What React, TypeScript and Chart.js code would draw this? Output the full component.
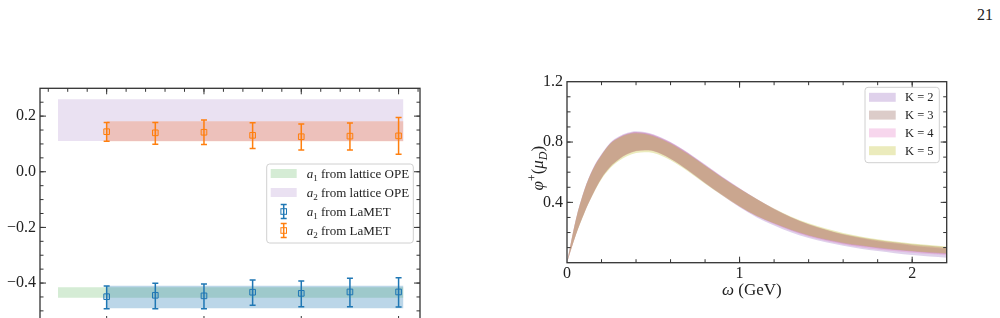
import React, { useEffect, useRef } from "react";
import { Chart, registerables } from "chart.js";

Chart.register(...registerables);

const SERIF = "'Liberation Serif', 'Times New Roman', Times, serif";
const INK = "#222222";
const FRAME = "#333333";

// ---------------- Left panel data ----------------
const LEFT_X_RANGE = [-0.37, 7.44];
const LEFT_Y_RANGE = [-0.54, 0.3];
const LEFT_Y_TICKS = [-0.4, -0.2, 0.0, 0.2];
const LEFT_X_MAJOR = [1, 3, 5, 7];

const LAMET_X = [1, 2, 3, 4, 5, 6, 7];
const A1_LAMET = [-0.449, -0.444, -0.446, -0.433, -0.437, -0.432, -0.432];
const A1_LAMET_HI = [-0.411, -0.401, -0.403, -0.389, -0.393, -0.383, -0.381];
const A1_LAMET_LO = [-0.492, -0.492, -0.492, -0.48, -0.485, -0.485, -0.486];
const A2_LAMET = [0.144, 0.14, 0.142, 0.131, 0.126, 0.128, 0.129];
const A2_LAMET_HI = [0.177, 0.177, 0.186, 0.176, 0.172, 0.175, 0.195];
const A2_LAMET_LO = [0.11, 0.099, 0.098, 0.084, 0.078, 0.078, 0.063];

const OPE_BAND_X = [0, 7.1];
const LAMET_BAND_X = [1, 7.1];
const A1_OPE_BAND = [-0.453, -0.415]; // [low, high]
const A2_OPE_BAND = [0.111, 0.261];
const A1_LAMET_BAND = [-0.491, -0.41];
const A2_LAMET_BAND = [0.11, 0.182];

const LEFT_LEGEND_SYMBOLS = ["1", "2", "1", "2"];
const LEFT_LEGEND_TEXT = [" from lattice OPE", " from lattice OPE", " from LaMET", " from LaMET"];

const C_BLUE = "#1f77b4";
const C_ORANGE = "#ff7f0e";

// ---------------- Right panel data ----------------
const RIGHT_X_TICKS = [0, 1, 2];
const RIGHT_Y_TICKS = [0.4, 0.8, 1.2];
const OMEGA = [0, 0.05, 0.1, 0.15, 0.2, 0.25, 0.3, 0.35, 0.4, 0.45, 0.5, 0.6, 0.7, 0.8, 0.9, 1.0, 1.1, 1.2, 1.3, 1.4, 1.5, 1.6, 1.7, 1.8, 1.9, 2.0, 2.1, 2.2];

const K2_UP = [0, 0.28, 0.482, 0.624, 0.72, 0.795, 0.836, 0.861, 0.871, 0.866, 0.851, 0.801, 0.731, 0.651, 0.57, 0.494, 0.423, 0.357, 0.3, 0.253, 0.216, 0.185, 0.162, 0.143, 0.127, 0.113, 0.101, 0.09];
const K2_LO = [0, 0.18, 0.33, 0.456, 0.562, 0.637, 0.687, 0.722, 0.742, 0.747, 0.742, 0.69, 0.613, 0.527, 0.445, 0.368, 0.3, 0.247, 0.2, 0.163, 0.135, 0.112, 0.093, 0.077, 0.063, 0.051, 0.041, 0.033];
const K3_UP = [0, 0.28, 0.48, 0.62, 0.715, 0.79, 0.83, 0.855, 0.865, 0.86, 0.845, 0.795, 0.725, 0.645, 0.565, 0.49, 0.42, 0.355, 0.3, 0.255, 0.22, 0.19, 0.168, 0.15, 0.135, 0.122, 0.112, 0.103];
const K3_LO = [0, 0.18, 0.33, 0.455, 0.56, 0.635, 0.685, 0.72, 0.74, 0.745, 0.74, 0.69, 0.615, 0.53, 0.45, 0.375, 0.31, 0.26, 0.215, 0.178, 0.15, 0.128, 0.11, 0.096, 0.084, 0.074, 0.065, 0.058];
const K4_UP = [0, 0.279, 0.48, 0.621, 0.716, 0.791, 0.832, 0.857, 0.867, 0.862, 0.848, 0.798, 0.729, 0.649, 0.569, 0.493, 0.422, 0.357, 0.301, 0.255, 0.219, 0.189, 0.166, 0.147, 0.132, 0.118, 0.107, 0.098];
const K4_LO = [0, 0.179, 0.329, 0.454, 0.559, 0.634, 0.684, 0.719, 0.739, 0.744, 0.739, 0.688, 0.613, 0.528, 0.447, 0.371, 0.306, 0.255, 0.21, 0.172, 0.144, 0.121, 0.103, 0.088, 0.076, 0.066, 0.057, 0.05];
const K5_UP = [0, 0.278, 0.478, 0.618, 0.713, 0.787, 0.826, 0.85, 0.858, 0.853, 0.838, 0.789, 0.72, 0.642, 0.564, 0.49, 0.422, 0.359, 0.305, 0.261, 0.226, 0.197, 0.174, 0.156, 0.141, 0.128, 0.117, 0.108];
const K5_LO = [0, 0.178, 0.327, 0.45, 0.553, 0.626, 0.675, 0.708, 0.727, 0.732, 0.728, 0.679, 0.606, 0.524, 0.445, 0.372, 0.31, 0.261, 0.218, 0.182, 0.155, 0.133, 0.115, 0.1, 0.088, 0.078, 0.069, 0.062];

const K_LABELS = ["K = 2", "K = 3", "K = 4", "K = 5"];
const K_COLORS = [
  "rgba(148,103,189,0.3)",
  "rgba(140,86,75,0.3)",
  "rgba(227,119,194,0.3)",
  "rgba(188,189,34,0.3)",
];

// ---------------- helpers ----------------
type Part = { t: string; it?: boolean; s?: number; dy?: number };

function fontFor(p: Part, size: number) {
  return `${p.it ? "italic " : ""}${(size * (p.s ?? 1)).toFixed(2)}px ${SERIF}`;
}
function richWidth(ctx: CanvasRenderingContext2D, parts: Part[], size: number) {
  let w = 0;
  for (const p of parts) {
    ctx.font = fontFor(p, size);
    w += ctx.measureText(p.t).width;
  }
  return w;
}
function drawRich(ctx: CanvasRenderingContext2D, parts: Part[], x: number, y: number, size: number) {
  ctx.textBaseline = "alphabetic";
  ctx.textAlign = "left";
  let cx = x;
  for (const p of parts) {
    ctx.font = fontFor(p, size);
    ctx.fillText(p.t, cx, y + (p.dy ?? 0));
    cx += ctx.measureText(p.t).width;
  }
}

const frameTicks = {
  id: "frameTicks",
  afterDraw(chart: any, _a: any, opts: any) {
    const { ctx, chartArea: a, scales } = chart;
    const xs = scales.x;
    const ys = scales.y;
    ctx.save();
    ctx.strokeStyle = FRAME;
    ctx.lineWidth = 1;
    const seg = (x1: number, y1: number, x2: number, y2: number) => {
      ctx.beginPath();
      ctx.moveTo(x1, y1);
      ctx.lineTo(x2, y2);
      ctx.stroke();
    };
    const xTick = (v: number, len: number) => {
      const px = xs.getPixelForValue(v);
      if (px < a.left + 0.5 || px > a.right - 0.5) return;
      seg(px, a.bottom, px, a.bottom - len);
      seg(px, a.top, px, a.top + len);
    };
    const yTick = (v: number, len: number) => {
      const py = ys.getPixelForValue(v);
      if (py < a.top + 0.5 || py > a.bottom - 0.5) return;
      seg(a.left, py, a.left + len, py);
      seg(a.right, py, a.right - len, py);
    };
    for (let v = opts.xMinorStart; v <= xs.max + 1e-9; v += opts.xMinorStep) xTick(v, opts.minorLen);
    for (let v = opts.yMinorStart; v <= ys.max + 1e-9; v += opts.yMinorStep) yTick(v, opts.minorLen);
    for (const v of opts.xMajor) xTick(v, opts.majorLen);
    for (const v of opts.yMajor) yTick(v, opts.majorLen);
    ctx.lineWidth = 1.3;
    ctx.strokeRect(a.left, a.top, a.right - a.left, a.bottom - a.top);
    ctx.restore();
  },
};

const boxLegend = {
  id: "boxLegend",
  afterDraw(chart: any, _a: any, o: any) {
    const { ctx, chartArea: a } = chart;
    const x0 = a.right - o.rightGap - o.width;
    const y0 = a.top + o.topGap;
    ctx.save();
    ctx.beginPath();
    const r = 3;
    const w = o.width;
    const h = o.height;
    ctx.moveTo(x0 + r, y0);
    ctx.arcTo(x0 + w, y0, x0 + w, y0 + h, r);
    ctx.arcTo(x0 + w, y0 + h, x0, y0 + h, r);
    ctx.arcTo(x0, y0 + h, x0, y0, r);
    ctx.arcTo(x0, y0, x0 + w, y0, r);
    ctx.closePath();
    ctx.fillStyle = "rgba(255,255,255,0.85)";
    ctx.fill();
    ctx.strokeStyle = "#d0d0d0";
    ctx.lineWidth = 1;
    ctx.stroke();
    o.items.forEach((it: any, i: number) => {
      const cy = y0 + o.rowY0 + i * o.rowStep;
      if (it.kind === "swatch") {
        ctx.fillStyle = it.color;
        ctx.fillRect(x0 + o.swatchX, cy - o.swatchH / 2, o.swatchW, o.swatchH);
      } else {
        const cx = x0 + o.swatchX + o.swatchW / 2;
        ctx.strokeStyle = it.color;
        ctx.lineWidth = 1.5;
        ctx.beginPath();
        ctx.moveTo(cx, cy - 7);
        ctx.lineTo(cx, cy + 7);
        ctx.moveTo(cx - 3, cy - 7);
        ctx.lineTo(cx + 3, cy - 7);
        ctx.moveTo(cx - 3, cy + 7);
        ctx.lineTo(cx + 3, cy + 7);
        ctx.stroke();
        ctx.lineWidth = 1;
        ctx.strokeRect(cx - 2.8, cy - 2.8, 5.6, 5.6);
      }
      ctx.fillStyle = INK;
      drawRich(ctx, it.parts, x0 + o.textX, cy + o.fontSize * 0.33, o.fontSize);
    });
    ctx.restore();
  },
};

const errBars = {
  id: "errBars",
  beforeDatasetDraw(chart: any, args: any, o: any) {
    const set = (o.sets || []).find((s: any) => s.index === args.index);
    if (!set) return;
    const { ctx, scales } = chart;
    ctx.save();
    ctx.strokeStyle = set.color;
    ctx.lineWidth = 1.5;
    set.x.forEach((xv: number, i: number) => {
      const px = scales.x.getPixelForValue(xv);
      const pLo = scales.y.getPixelForValue(set.lo[i]);
      const pHi = scales.y.getPixelForValue(set.hi[i]);
      ctx.beginPath();
      ctx.moveTo(px, pLo);
      ctx.lineTo(px, pHi);
      ctx.moveTo(px - 3, pLo);
      ctx.lineTo(px + 3, pLo);
      ctx.moveTo(px - 3, pHi);
      ctx.lineTo(px + 3, pHi);
      ctx.stroke();
    });
    ctx.restore();
  },
};

const axisTitles = {
  id: "axisTitles",
  afterDraw(chart: any, _a: any, o: any) {
    const { ctx, chartArea: a } = chart;
    ctx.save();
    ctx.fillStyle = INK;
    const xw = richWidth(ctx, o.xParts, o.size);
    drawRich(ctx, o.xParts, (a.left + a.right) / 2 + o.xShift - xw / 2, a.bottom + o.xBaseline, o.size);
    const yw = richWidth(ctx, o.yParts, o.size);
    ctx.translate(a.left - o.yBaseline, (a.top + a.bottom) / 2 + o.yShift);
    ctx.rotate(-Math.PI / 2);
    drawRich(ctx, o.yParts, -yw / 2, 0, o.size);
    ctx.restore();
  },
};

const fmt = (v: number, d: number) => v.toFixed(d).replace("-", "\u2212");

function bandDataset(xr: number[], band: number[], color: string, order: number) {
  return {
    type: "line",
    data: xr.map((x) => ({ x, y: band[1] })),
    fill: { value: band[0] },
    backgroundColor: color,
    borderColor: "transparent",
    borderWidth: 0,
    pointRadius: 0,
    order,
  };
}

function leftConfig(): any {
  return {
    type: "line",
    data: {
      datasets: [
        {
          data: LAMET_X.map((x, i) => ({ x, y: A1_LAMET[i] })),
          showLine: false,
          pointStyle: "rect",
          pointRadius: 4,
          borderWidth: 1,
          borderColor: C_BLUE,
          backgroundColor: "rgba(31,119,180,0.12)",
          order: 0,
        },
        {
          data: LAMET_X.map((x, i) => ({ x, y: A2_LAMET[i] })),
          showLine: false,
          pointStyle: "rect",
          pointRadius: 4,
          borderWidth: 1,
          borderColor: C_ORANGE,
          backgroundColor: "rgba(255,127,14,0.12)",
          order: 0,
        },
        bandDataset(LAMET_BAND_X, A1_LAMET_BAND, "rgba(31,119,180,0.3)", 1),
        bandDataset(LAMET_BAND_X, A2_LAMET_BAND, "rgba(245,120,60,0.3)", 2),
        bandDataset(OPE_BAND_X, A1_OPE_BAND, "rgba(44,160,44,0.2)", 3),
        bandDataset(OPE_BAND_X, A2_OPE_BAND, "rgba(148,103,189,0.2)", 4),
      ],
    },
    options: {
      animation: false,
      responsive: false,
      devicePixelRatio: 1,
      events: [],
      layout: { padding: { left: 0, top: 88.3, right: 20, bottom: 18 } },
      scales: {
        x: { type: "linear", min: LEFT_X_RANGE[0], max: LEFT_X_RANGE[1], display: false },
        y: {
          type: "linear",
          min: LEFT_Y_RANGE[0],
          max: LEFT_Y_RANGE[1],
          grid: { display: false, drawTicks: false, tickLength: 0 },
          border: { display: false },
          afterBuildTicks: (s: any) => {
            s.ticks = LEFT_Y_TICKS.map((value) => ({ value }));
          },
          afterFit: (s: any) => {
            s.width = 40;
          },
          ticks: {
            padding: 4,
            color: INK,
            font: { family: SERIF, size: 16 },
            callback: (v: number) => fmt(v, 1),
          },
        },
      },
      plugins: {
        legend: { display: false },
        tooltip: { enabled: false },
        frameTicks: {
          xMajor: LEFT_X_MAJOR,
          yMajor: LEFT_Y_TICKS,
          xMinorStart: -0.2,
          xMinorStep: 0.4,
          yMinorStart: -0.5,
          yMinorStep: 0.05,
          majorLen: 6,
          minorLen: 3.5,
        },
        errBars: {
          sets: [
            { index: 0, x: LAMET_X, lo: A1_LAMET_LO, hi: A1_LAMET_HI, color: C_BLUE },
            { index: 1, x: LAMET_X, lo: A2_LAMET_LO, hi: A2_LAMET_HI, color: C_ORANGE },
          ],
        },
        boxLegend: {
          rightGap: 6.7,
          topGap: 75.7,
          width: 146.6,
          height: 79,
          rowY0: 9.5,
          rowStep: 19,
          swatchX: 4,
          swatchW: 26,
          swatchH: 9,
          textX: 40,
          fontSize: 13,
          items: [
            { kind: "swatch", color: "rgba(44,160,44,0.2)" },
            { kind: "swatch", color: "rgba(148,103,189,0.2)" },
            { kind: "errorbar", color: C_BLUE },
            { kind: "errorbar", color: C_ORANGE },
          ].map((it, i) => ({
            ...it,
            parts: [
              { t: "a", it: true },
              { t: LEFT_LEGEND_SYMBOLS[i], s: 0.7, dy: 3 },
              { t: LEFT_LEGEND_TEXT[i] },
            ],
          })),
        },
      },
    },
    plugins: [frameTicks, errBars, boxLegend],
  };
}

function rightConfig(): any {
  const bands = [
    [K2_UP, K2_LO],
    [K3_UP, K3_LO],
    [K4_UP, K4_LO],
    [K5_UP, K5_LO],
  ];
  const datasets: any[] = [];
  bands.forEach(([up, lo], k) => {
    datasets.push({
      data: OMEGA.map((x, i) => ({ x, y: up[i] })),
      fill: "+1",
      backgroundColor: K_COLORS[k],
      borderColor: "transparent",
      borderWidth: 0,
      pointRadius: 0,
      cubicInterpolationMode: "monotone",
      order: 4 - k,
    });
    datasets.push({
      data: OMEGA.map((x, i) => ({ x, y: lo[i] })),
      fill: false,
      borderColor: "transparent",
      borderWidth: 0,
      pointRadius: 0,
      cubicInterpolationMode: "monotone",
      order: 4 - k,
    });
  });
  return {
    type: "line",
    data: { datasets },
    options: {
      animation: false,
      responsive: false,
      devicePixelRatio: 1,
      events: [],
      layout: { padding: { left: 0, top: 21.7, right: 13.3, bottom: 25.3 } },
      scales: {
        x: {
          type: "linear",
          min: 0,
          max: 2.2,
          grid: { display: false, drawTicks: false, tickLength: 0 },
          border: { display: false },
          afterBuildTicks: (s: any) => {
            s.ticks = RIGHT_X_TICKS.map((value) => ({ value }));
          },
          afterFit: (s: any) => {
            s.height = 30;
          },
          ticks: {
            padding: 1,
            color: INK,
            maxRotation: 0,
            font: { family: SERIF, size: 16 },
            callback: (v: number) => fmt(v, 0),
          },
        },
        y: {
          type: "linear",
          min: 0,
          max: 1.2,
          grid: { display: false, drawTicks: false, tickLength: 0 },
          border: { display: false },
          afterBuildTicks: (s: any) => {
            s.ticks = RIGHT_Y_TICKS.map((value) => ({ value }));
          },
          afterFit: (s: any) => {
            s.width = 67;
          },
          ticks: {
            padding: 4,
            color: INK,
            font: { family: SERIF, size: 16 },
            callback: (v: number) => fmt(v, 1),
          },
        },
      },
      plugins: {
        legend: { display: false },
        tooltip: { enabled: false },
        frameTicks: {
          xMajor: RIGHT_X_TICKS,
          yMajor: RIGHT_Y_TICKS,
          xMinorStart: 0.2,
          xMinorStep: 0.2,
          yMinorStart: 0.1,
          yMinorStep: 0.1,
          majorLen: 6,
          minorLen: 3.5,
        },
        boxLegend: {
          rightGap: 7.4,
          topGap: 5.6,
          width: 74.3,
          height: 75.4,
          rowY0: 10,
          rowStep: 17.8,
          swatchX: 4,
          swatchW: 26.7,
          swatchH: 9,
          textX: 40,
          fontSize: 12.5,
          items: K_LABELS.map((label, k) => ({ kind: "swatch", color: K_COLORS[k], parts: [{ t: label }] })),
        },
        axisTitles: {
          size: 17,
          xParts: [{ t: "\u03c9", it: true }, { t: " (GeV)" }],
          xShift: -5,
          xBaseline: 32,
          yParts: [
            { t: "\u03c6", it: true },
            { t: "+", s: 0.7, dy: -7 },
            { t: "(" },
            { t: "\u03bc", it: true },
            { t: "D", it: true, s: 0.7, dy: 4 },
            { t: ")" },
          ],
          yBaseline: 24,
          yShift: -4,
        },
      },
    },
    plugins: [frameTicks, boxLegend, axisTitles],
  };
}

export default function App() {
  const leftRef = useRef<HTMLCanvasElement>(null);
  const rightRef = useRef<HTMLCanvasElement>(null);

  useEffect(() => {
    const left = new Chart(leftRef.current as HTMLCanvasElement, leftConfig());
    const right = new Chart(rightRef.current as HTMLCanvasElement, rightConfig());
    return () => {
      left.destroy();
      right.destroy();
    };
  }, []);

  return (
    <div style={{ position: "fixed", inset: 0, overflow: "hidden", background: "#ffffff" }}>
      <div
        style={{
          position: "absolute",
          right: 7,
          top: 6,
          font: `16px ${SERIF}`,
          color: INK,
          lineHeight: "18px",
        }}
      >
        21
      </div>
      <canvas
        ref={leftRef}
        width={440}
        height={340}
        style={{ position: "absolute", left: 0, top: 0, width: 440, height: 340, display: "block" }}
      />
      <canvas
        ref={rightRef}
        width={460}
        height={258}
        style={{ position: "absolute", left: 500, top: 60, width: 460, height: 258, display: "block" }}
      />
    </div>
  );
}
